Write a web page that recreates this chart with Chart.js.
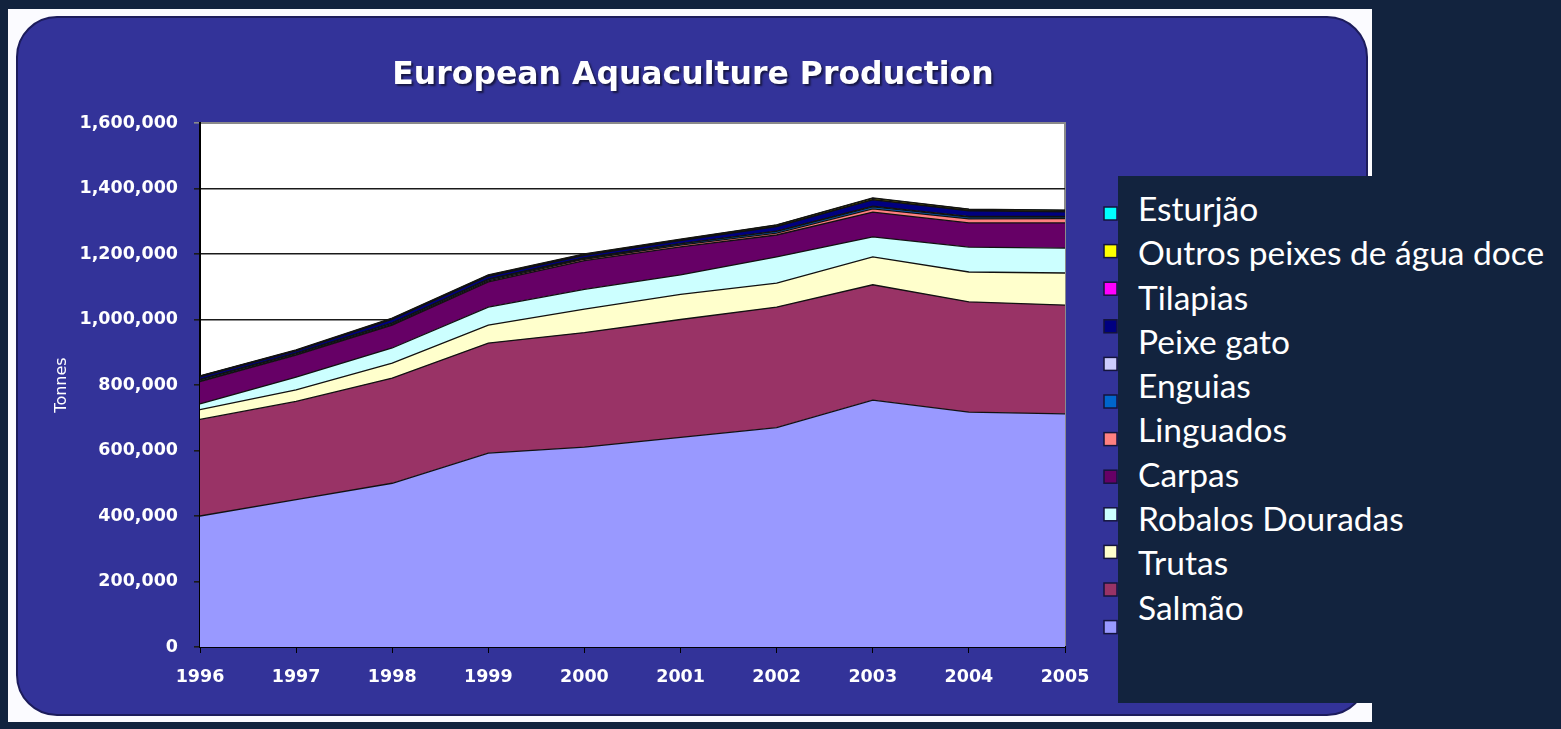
<!DOCTYPE html>
<html>
<head>
<meta charset="utf-8">
<title>European Aquaculture Production</title>
<script src="https://cdn.jsdelivr.net/npm/chart.js"></script>
<style>
    body { margin: 0; background: #12233e; overflow: hidden; }
    #wrap { position: relative; width: 1561px; height: 729px; }
    #legendBox {
        position: absolute; left: 1118px; top: 176px; width: 443px; height: 527px;
        background: #12233e; color: #fff;
        font-family: Lato, "Noto Sans", sans-serif; font-size: 33.5px; line-height: 44.3px;
        padding: 10px 0 0 20px; box-sizing: border-box; white-space: nowrap;
    }
</style>
</head>
<body>
<div id="wrap">
    <canvas id="aquaChart" width="1561" height="729"></canvas>
    <div id="legendBox"></div>
</div>
<script>
// --- Data (tonnes) ---
const years = ['1996', '1997', '1998', '1999', '2000', '2001', '2002', '2003', '2004', '2005'];

const salmao     = [400000, 450000, 500000, 592000, 610000, 640000, 670000, 754000, 717000, 712000];
const trutas     = [295000, 300000, 321000, 336000, 350000, 360000, 368000, 352000, 337000, 332000];
const robalos    = [30000, 35000, 46000, 55000, 72000, 77000, 73000, 85000, 91000, 98000];
const douradas   = [17000, 39000, 46000, 55000, 60000, 59000, 80000, 61000, 76000, 76000];
const carpas     = [68000, 67000, 70000, 77000, 88000, 86000, 67000, 76000, 74000, 77000];
const linguados  = [2000, 2000, 2000, 3000, 4000, 5000, 6000, 10000, 12000, 13000];
const enguias    = [4000, 3000, 4000, 4000, 3000, 4000, 5000, 6000, 6000, 5000];
const outros     = [1000, 1000, 1000, 1000, 1000, 1000, 1000, 2000, 2000, 2000];
const peixeGato  = [8000, 7000, 10000, 9000, 8000, 9000, 14000, 19000, 17000, 14000];
const tilapias   = [1000, 1000, 1000, 1000, 1000, 1000, 1000, 1000, 1000, 1000];
const outrosDoce = [1000, 1000, 2000, 2000, 2000, 2000, 3000, 4000, 3000, 3000];
const esturjao   = [1000, 1000, 1000, 1000, 1000, 1000, 1000, 1000, 1000, 1000];

// bottom -> top, Excel default palette
const seriesNames  = ['Salmão', 'Trutas', 'Robalos', 'Douradas', 'Carpas', 'Linguados', 'Enguias', 'Outros', 'Peixe gato', 'Tilapias', 'Outros peixes de água doce', 'Esturjão'];
const seriesValues = [salmao, trutas, robalos, douradas, carpas, linguados, enguias, outros, peixeGato, tilapias, outrosDoce, esturjao];
const seriesColors = ['#9999FF', '#993366', '#FFFFCC', '#CCFFFF', '#660066', '#FF8080', '#0066CC', '#CCCCFF', '#000080', '#FF00FF', '#FFFF00', '#00FFFF'];

const yTicks = [0, 200000, 400000, 600000, 800000, 1000000, 1200000, 1400000, 1600000];

// text box pasted over the legend (top -> bottom)
const boxLabels = ['Esturjão', 'Outros peixes de água doce', 'Tilapias', 'Peixe gato', 'Enguias', 'Linguados', 'Carpas', 'Robalos Douradas', 'Trutas', 'Salmão'];

const chartTitle = 'European Aquaculture Production';

document.addEventListener('DOMContentLoaded', () => {
    fillLegendBox();
    initChart();
});

function fillLegendBox() {
    document.getElementById('legendBox').innerHTML = boxLabels.map(t => '<div>' + t + '</div>').join('');
}

// --- panel, plot background, title, legend swatches ---
const panelPlugin = {
    id: 'panel',
    beforeDraw(chart) {
        const ctx = chart.ctx;
        const a = chart.chartArea;
        ctx.save();
        ctx.fillStyle = '#fbfbff';
        ctx.fillRect(8, 9, 1364, 713);

        ctx.beginPath();
        ctx.roundRect(17, 17, 1350, 698, 40);
        ctx.fillStyle = '#333399';
        ctx.fill();
        ctx.lineWidth = 2;
        ctx.strokeStyle = '#1c1c5c';
        ctx.stroke();

        ctx.fillStyle = '#ffffff';
        ctx.fillRect(a.left, a.top, a.right - a.left, a.bottom - a.top);
        ctx.strokeStyle = '#8a8a8a';
        ctx.lineWidth = 2;
        ctx.beginPath();
        ctx.moveTo(a.left, a.top);
        ctx.lineTo(a.right, a.top);
        ctx.lineTo(a.right, a.bottom);
        ctx.stroke();

        ctx.font = 'bold 31.5px "DejaVu Sans", sans-serif';
        ctx.textAlign = 'center';
        ctx.textBaseline = 'middle';
        ctx.shadowColor = 'rgba(0,0,0,0.55)';
        ctx.shadowOffsetX = 2;
        ctx.shadowOffsetY = 2;
        ctx.shadowBlur = 2;
        ctx.fillStyle = '#ffffff';
        ctx.fillText(chartTitle, 693, 76);
        ctx.restore();
    },
    afterDraw(chart) {
        const ctx = chart.ctx;
        const sets = chart.data.datasets;
        ctx.save();
        // legend order is reversed (top series first)
        for (let i = 0; i < sets.length; i++) {
            const ds = sets[sets.length - 1 - i];
            const y = 207 + i * 37.6;
            ctx.fillStyle = ds.backgroundColor;
            ctx.fillRect(1104, y, 13, 13);
            ctx.strokeStyle = '#14143c';
            ctx.lineWidth = 1.5;
            ctx.strokeRect(1104, y, 13, 13);
        }
        ctx.restore();
    }
};

function initChart() {
    const ctx = document.getElementById('aquaChart').getContext('2d');

    const datasets = seriesValues.map((vals, i) => ({
        label: seriesNames[i],
        data: vals,
        backgroundColor: seriesColors[i],
        borderColor: '#111111',
        borderWidth: 1.3,
        pointRadius: 0,
        tension: 0,
        fill: i === 0 ? 'origin' : '-1'
    }));

    new Chart(ctx, {
        type: 'line',
        data: { labels: years, datasets: datasets },
        options: {
            responsive: false,
            animation: false,
            devicePixelRatio: 1,
            layout: { padding: { left: 40, right: 496, top: 123, bottom: 32 } },
            plugins: {
                legend: { display: false },
                title: { display: false },
                tooltip: { enabled: false }
            },
            scales: {
                x: {
                    offset: false,
                    grid: { drawOnChartArea: false, drawTicks: true, tickLength: 6, color: '#000' },
                    border: { display: true, color: '#000', width: 2 },
                    ticks: {
                        color: '#ffffff', padding: 14, maxRotation: 0,
                        font: { family: 'DejaVu Sans', size: 17.5, weight: 'bold' }
                    },
                    afterFit: (s) => { s.height = 50; }
                },
                y: {
                    stacked: true,
                    min: 0,
                    max: 1600000,
                    afterBuildTicks: (s) => { s.ticks = yTicks.map(v => ({ value: v })); },
                    grid: {
                        drawTicks: true, tickLength: 6, lineWidth: 1.6,
                        color: (c) => c.tick && c.tick.value === 1600000 ? '#8a8a8a' : '#1a1a1a'
                    },
                    border: { display: true, color: '#000', width: 2 },
                    ticks: {
                        color: '#ffffff', padding: 16,
                        font: { family: 'DejaVu Sans', size: 17.5, weight: 'bold' },
                        callback: (v) => Number(v).toLocaleString('en-US')
                    },
                    title: {
                        display: true, text: 'Tonnes', color: '#ffffff',
                        font: { family: 'DejaVu Sans', size: 16 }, padding: { top: 12, bottom: 4 }
                    },
                    afterFit: (s) => { s.width = 160; }
                }
            }
        },
        plugins: [panelPlugin]
    });
}
</script>
</body>
</html>
